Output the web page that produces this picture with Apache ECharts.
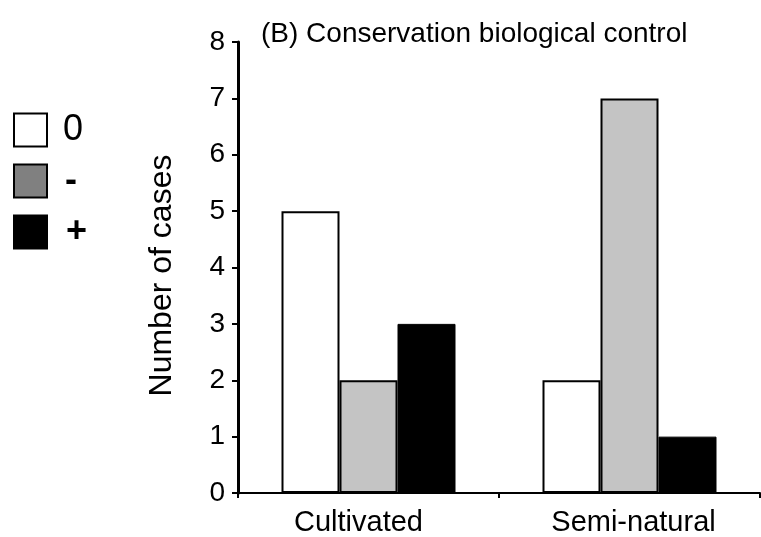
<!DOCTYPE html>
<html><head><meta charset="utf-8">
<script src="https://cdn.jsdelivr.net/npm/echarts@6/dist/echarts.min.js"></script>
<style>html,body{margin:0;padding:0;background:#fff}#c{width:761px;height:537px}</style>
</head><body><div id="c"></div>
<script>
var categories = ['Cultivated', 'Semi-natural'];
var seriesNames = ['0', '-', '+'];
var zeroValues = [5, 2];
var minusValues = [2, 7];
var plusValues = [3, 1];
var yTicks = [0, 1, 2, 3, 4, 5, 6, 7, 8];

var chart = echarts.init(document.getElementById('c'), null, {renderer: 'canvas'});
var font = 'Liberation Sans, Arial, sans-serif';
var labelShift = [[0, 20, 0, 0], [0, 0, 0, 8]];
chart.setOption({
  animation: false,
  backgroundColor: '#fff',
  title: {
    text: '(B) Conservation biological control',
    left: 256, top: 15,
    textStyle: {fontFamily: font, fontSize: 28, fontWeight: 'normal', color: '#000'}
  },
  legend: {
    orient: 'vertical', left: 13, top: 112, padding: 0,
    itemWidth: 33, itemHeight: 33, itemGap: 15,
    textStyle: {fontFamily: font, fontSize: 36, lineHeight: 33, height: 33, color: '#000', padding: [0, 0, 0, 11]},
    data: [
      {name: '0', icon: 'rect', itemStyle: {color: '#fff', borderColor: '#000', borderWidth: 2}},
      {name: '-', icon: 'rect', itemStyle: {color: '#808080', borderColor: '#000', borderWidth: 2},
       textStyle: {fontWeight: 'bold', padding: [0, 0, 0, 13]}},
      {name: '+', icon: 'rect', itemStyle: {color: '#000', borderColor: '#000', borderWidth: 2},
       textStyle: {fontWeight: 'bold', padding: [0, 0, 0, 14]}}
    ]
  },
  grid: {left: 238, top: 42, right: 1, bottom: 44, containLabel: false},
  xAxis: {
    type: 'category',
    data: categories.map(function (c, i) { return {value: c, textStyle: {padding: labelShift[i]}}; }),
    axisLine: {lineStyle: {color: '#000', width: 2}},
    axisTick: {show: true, alignWithLabel: false, length: 5, lineStyle: {color: '#000', width: 2}},
    axisLabel: {fontFamily: font, fontSize: 29, color: '#000', margin: 15}
  },
  yAxis: {
    type: 'value', min: 0, max: 8, interval: 1,
    name: 'Number of cases', nameLocation: 'middle', nameGap: 60, nameRotate: 90,
    nameTextStyle: {fontFamily: font, fontSize: 32, color: '#000', padding: [0, 16, 0, 0]},
    axisLine: {show: true, lineStyle: {color: '#000', width: 3}},
    axisTick: {show: true, length: 6, lineStyle: {color: '#000', width: 2}},
    axisLabel: {fontFamily: font, fontSize: 28, color: '#000', margin: 13,
      formatter: function (v) { return yTicks.indexOf(v) >= 0 ? String(v) : ''; }},
    splitLine: {show: false}
  },
  series: [
    {name: seriesNames[0], type: 'bar', data: zeroValues, barWidth: 58, barGap: '0%',
     itemStyle: {color: '#fff', borderColor: '#000', borderWidth: 2}},
    {name: seriesNames[1], type: 'bar', data: minusValues, barWidth: 58, barGap: '0%',
     itemStyle: {color: '#c4c4c4', borderColor: '#000', borderWidth: 2}},
    {name: seriesNames[2], type: 'bar', data: plusValues, barWidth: 58, barGap: '0%',
     itemStyle: {color: '#000', borderColor: '#000', borderWidth: 1}}
  ]
});
</script></body></html>
